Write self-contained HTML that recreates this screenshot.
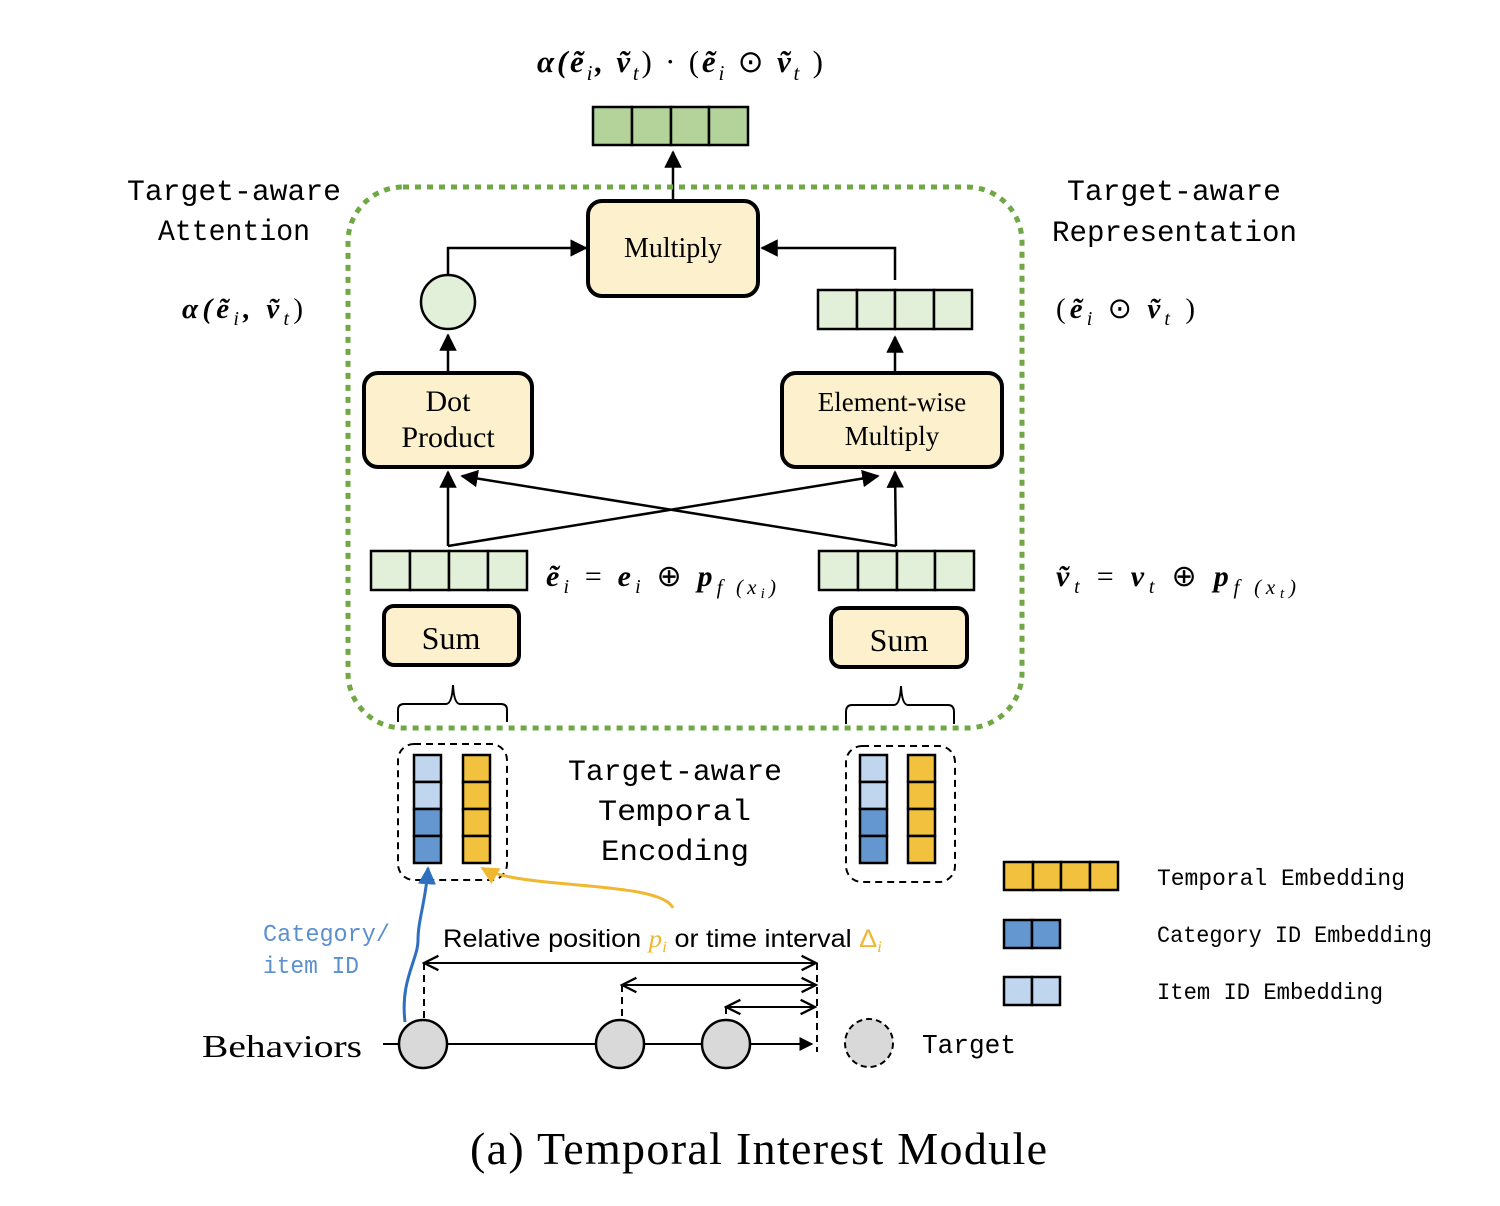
<!DOCTYPE html>
<html><head><meta charset="utf-8"><style>
body{margin:0;background:#fff}
svg{display:block}
.t{font-family:"Liberation Serif",serif;}
.w{font-family:"Liberation Mono",monospace;}
.m{font-family:"Liberation Serif",serif;font-style:italic;}
.s{font-family:"Liberation Sans",sans-serif;}
</style></head><body>
<svg width="1500" height="1206" viewBox="0 0 1500 1206" xmlns="http://www.w3.org/2000/svg">
<defs>
<marker id="a" viewBox="0 0 10 10" refX="9" refY="5" markerWidth="7" markerHeight="7" orient="auto-start-reverse"><path d="M0,0 L10,5 L0,10 z" fill="#000"/></marker>
<marker id="o" viewBox="0 0 10 10" refX="9" refY="5" markerWidth="9" markerHeight="9" orient="auto-start-reverse"><path d="M1,1 L9,5 L1,9" fill="none" stroke="#000" stroke-width="1.3"/></marker>
<marker id="ab" viewBox="0 0 10 10" refX="9" refY="5" markerWidth="6" markerHeight="6" orient="auto"><path d="M0,0 L10,5 L0,10 z" fill="#2f6fbf"/></marker>
<marker id="ay" viewBox="0 0 10 10" refX="9" refY="5" markerWidth="6" markerHeight="6" orient="auto"><path d="M0,0 L10,5 L0,10 z" fill="#f0b830"/></marker>
</defs>
<!-- top formula -->
<text x="537" y="72" class="m" font-size="31" font-weight="bold" textLength="286" lengthAdjust="spacing">α(ẽ<tspan font-size="21" dy="8" font-weight="normal">i</tspan><tspan dy="-8">, ṽ</tspan><tspan font-size="21" dy="8" font-weight="normal">t</tspan><tspan dy="-8" font-style="normal" font-weight="normal">) · (</tspan>ẽ<tspan font-size="21" dy="8" font-weight="normal">i</tspan><tspan dy="-8" font-style="normal" font-weight="normal"> ⊙ </tspan>ṽ<tspan font-size="21" dy="8" font-weight="normal">t</tspan><tspan dy="-8" font-style="normal" font-weight="normal"> )</tspan></text>
<!-- top vector -->
<g fill="#b3d39a" stroke="#000" stroke-width="2.5">
<rect x="593" y="107" width="39" height="38"/><rect x="632" y="107" width="39" height="38"/><rect x="671" y="107" width="38" height="38"/><rect x="709" y="107" width="39" height="38"/></g>
<line x1="673" y1="200" x2="673" y2="152" stroke="#000" stroke-width="2.5" marker-end="url(#a)"/>
<!-- green dotted -->
<rect x="348" y="187" width="674" height="541" rx="55" fill="none" stroke="#70a845" stroke-width="5" stroke-dasharray="6 6"/>
<!-- labels -->
<g class="w" font-size="30">
<text x="127" y="200" textLength="214" lengthAdjust="spacingAndGlyphs">Target-aware</text><text x="158" y="240" textLength="152" lengthAdjust="spacingAndGlyphs">Attention</text>
<text x="1067" y="200" textLength="214" lengthAdjust="spacingAndGlyphs">Target-aware</text><text x="1052" y="241" textLength="245" lengthAdjust="spacingAndGlyphs">Representation</text>
<text x="568" y="780" textLength="214" lengthAdjust="spacingAndGlyphs">Target-aware</text><text x="598" y="820" textLength="153" lengthAdjust="spacingAndGlyphs">Temporal</text><text x="601" y="860" textLength="148" lengthAdjust="spacingAndGlyphs">Encoding</text>
</g>
<text x="182" y="318" class="m" font-size="29" font-weight="bold" textLength="121" lengthAdjust="spacing">α(ẽ<tspan font-size="20" dy="7" font-weight="normal">i</tspan><tspan dy="-7">, ṽ</tspan><tspan font-size="20" dy="7" font-weight="normal">t</tspan><tspan dy="-7" font-style="normal" font-weight="normal">)</tspan></text>
<text x="1056" y="318" class="m" font-size="29" font-weight="bold" textLength="139" lengthAdjust="spacing"><tspan font-style="normal" font-weight="normal">(</tspan>ẽ<tspan font-size="20" dy="7" font-weight="normal">i</tspan><tspan dy="-7" font-style="normal" font-weight="normal"> ⊙ </tspan>ṽ<tspan font-size="20" dy="7" font-weight="normal">t</tspan><tspan dy="-7" font-style="normal" font-weight="normal"> )</tspan></text>
<!-- Multiply box -->
<rect x="588" y="201" width="170" height="95" rx="14" fill="#fdf1cd" stroke="#000" stroke-width="4"/>
<text x="673" y="257" class="t" font-size="28" text-anchor="middle">Multiply</text>
<!-- circle -->
<circle cx="448" cy="302" r="27" fill="#e2efd9" stroke="#000" stroke-width="2.5"/>
<polyline points="448,275 448,248 586,248" fill="none" stroke="#000" stroke-width="2.5" marker-end="url(#a)"/>
<polyline points="895,280 895,248 762,248" fill="none" stroke="#000" stroke-width="2.5" marker-end="url(#a)"/>
<g fill="#e2efd9" stroke="#000" stroke-width="2.5">
<rect x="818" y="290" width="39" height="39"/><rect x="857" y="290" width="38" height="39"/><rect x="895" y="290" width="39" height="39"/><rect x="934" y="290" width="38" height="39"/>
<rect x="371" y="551" width="39" height="39"/><rect x="410" y="551" width="39" height="39"/><rect x="449" y="551" width="39" height="39"/><rect x="488" y="551" width="39" height="39"/>
<rect x="819" y="551" width="39" height="39"/><rect x="858" y="551" width="39" height="39"/><rect x="897" y="551" width="38" height="39"/><rect x="935" y="551" width="39" height="39"/>
</g>
<!-- boxes -->
<rect x="364" y="373" width="168" height="94" rx="14" fill="#fdf1cd" stroke="#000" stroke-width="4"/>
<text x="448" y="411" class="t" font-size="30" text-anchor="middle">Dot</text>
<text x="448" y="447" class="t" font-size="30" text-anchor="middle">Product</text>
<rect x="782" y="373" width="220" height="94" rx="14" fill="#fdf1cd" stroke="#000" stroke-width="4"/>
<text x="892" y="411" class="t" font-size="27" text-anchor="middle">Element-wise</text>
<text x="892" y="445" class="t" font-size="27" text-anchor="middle">Multiply</text>
<g stroke="#000" stroke-width="2.5" fill="none">
<line x1="448" y1="371" x2="448" y2="335" marker-end="url(#a)"/>
<line x1="895" y1="371" x2="895" y2="337" marker-end="url(#a)"/>
<line x1="448" y1="546" x2="448" y2="472" marker-end="url(#a)"/>
<line x1="448" y1="546" x2="878" y2="476" marker-end="url(#a)"/>
<line x1="896" y1="546" x2="895" y2="472" marker-end="url(#a)"/>
<line x1="896" y1="546" x2="462" y2="476" marker-end="url(#a)"/>
</g>
<text x="546" y="586" class="m" font-size="30" font-weight="bold" textLength="230" lengthAdjust="spacing">ẽ<tspan font-size="20" dy="7" font-weight="normal">i</tspan><tspan dy="-7" font-style="normal" font-weight="normal"> = </tspan>e<tspan font-size="20" dy="7" font-weight="normal">i</tspan><tspan dy="-7" font-style="normal" font-weight="normal"> ⊕ </tspan>p<tspan font-size="21" dy="8" font-weight="normal">f (x<tspan font-size="15" dy="4">i</tspan><tspan dy="-4">)</tspan></tspan></text>
<text x="1056" y="586" class="m" font-size="30" font-weight="bold" textLength="240" lengthAdjust="spacing">ṽ<tspan font-size="20" dy="7" font-weight="normal">t</tspan><tspan dy="-7" font-style="normal" font-weight="normal"> = </tspan>v<tspan font-size="20" dy="7" font-weight="normal">t</tspan><tspan dy="-7" font-style="normal" font-weight="normal"> ⊕ </tspan>p<tspan font-size="21" dy="8" font-weight="normal">f (x<tspan font-size="15" dy="4">t</tspan><tspan dy="-4">)</tspan></tspan></text>
<!-- sums -->
<rect x="384" y="606" width="135" height="59" rx="10" fill="#fdf1cd" stroke="#000" stroke-width="4"/>
<text x="451" y="649" class="t" font-size="32" text-anchor="middle">Sum</text>
<rect x="831" y="608" width="136" height="59" rx="10" fill="#fdf1cd" stroke="#000" stroke-width="4"/>
<text x="899" y="651" class="t" font-size="32" text-anchor="middle">Sum</text>
<!-- braces -->
<g stroke="#000" stroke-width="2" fill="none">
<path d="M398,722 L398,710 Q398,704 404,704 L446,704 Q452,704 453,685 Q454,704 460,704 L501,704 Q507,704 507,710 L507,722"/>
<path d="M846,724 L846,712 Q846,705 852,705 L894,705 Q900,705 901,686 Q902,705 908,705 L948,705 Q954,705 954,712 L954,724"/>
<rect x="398" y="744" width="109" height="136" rx="16" stroke-dasharray="7 5"/>
<rect x="846" y="746" width="109" height="136" rx="16" stroke-dasharray="7 5"/>
</g>
<g stroke="#000" stroke-width="2.5">
<rect x="414" y="755" width="27" height="27" fill="#c0d6ee"/><rect x="414" y="782" width="27" height="27" fill="#c0d6ee"/><rect x="414" y="809" width="27" height="27" fill="#6497cf"/><rect x="414" y="836" width="27" height="27" fill="#6497cf"/>
<rect x="463" y="755" width="27" height="27" fill="#f2c23e"/><rect x="463" y="782" width="27" height="27" fill="#f2c23e"/><rect x="463" y="809" width="27" height="27" fill="#f2c23e"/><rect x="463" y="836" width="27" height="27" fill="#f2c23e"/>
<rect x="860" y="755" width="27" height="27" fill="#c0d6ee"/><rect x="860" y="782" width="27" height="27" fill="#c0d6ee"/><rect x="860" y="809" width="27" height="27" fill="#6497cf"/><rect x="860" y="836" width="27" height="27" fill="#6497cf"/>
<rect x="908" y="755" width="27" height="27" fill="#f2c23e"/><rect x="908" y="782" width="27" height="27" fill="#f2c23e"/><rect x="908" y="809" width="27" height="27" fill="#f2c23e"/><rect x="908" y="836" width="27" height="27" fill="#f2c23e"/>
<!-- legend -->
<rect x="1004" y="862" width="29" height="28" fill="#f2c23e"/><rect x="1033" y="862" width="28" height="28" fill="#f2c23e"/><rect x="1061" y="862" width="29" height="28" fill="#f2c23e"/><rect x="1090" y="862" width="28" height="28" fill="#f2c23e"/>
<rect x="1004" y="920" width="28" height="28" fill="#6497cf"/><rect x="1032" y="920" width="28" height="28" fill="#6497cf"/>
<rect x="1004" y="977" width="28" height="28" fill="#c0d6ee"/><rect x="1032" y="977" width="28" height="28" fill="#c0d6ee"/>
</g>
<g class="w" font-size="23">
<text x="1157" y="885" textLength="248" lengthAdjust="spacingAndGlyphs">Temporal Embedding</text>
<text x="1157" y="942" textLength="275" lengthAdjust="spacingAndGlyphs">Category ID Embedding</text>
<text x="1157" y="999" textLength="226" lengthAdjust="spacingAndGlyphs">Item ID Embedding</text>
</g>
<!-- curves -->
<path d="M405,1022 C400,980 418,960 418,940 C418,920 426,900 428,868" fill="none" stroke="#2f6fbf" stroke-width="3" marker-end="url(#ab)"/>
<path d="M673,908 C660,880 520,890 482,868" fill="none" stroke="#f0b830" stroke-width="3" marker-end="url(#ay)"/>
<text x="263" y="941" class="w" font-size="24" fill="#5b8fd0" textLength="127" lengthAdjust="spacingAndGlyphs">Category/</text>
<text x="263" y="973" class="w" font-size="24" fill="#5b8fd0" textLength="96" lengthAdjust="spacingAndGlyphs">item ID</text>
<text x="443" y="947" class="s" font-size="25" textLength="439" lengthAdjust="spacingAndGlyphs">Relative position <tspan class="m" fill="#f0b830">p<tspan font-size="16" dy="5">i</tspan></tspan><tspan dy="-5"> or time interval </tspan><tspan fill="#f0b830">Δ<tspan font-size="16" dy="5" class="m">i</tspan></tspan></text>
<!-- timeline -->
<g stroke="#000" stroke-width="2" fill="none">
<line x1="424" y1="963" x2="816" y2="963" marker-start="url(#o)" marker-end="url(#o)"/>
<line x1="622" y1="985" x2="816" y2="985" marker-start="url(#o)" marker-end="url(#o)"/>
<line x1="726" y1="1007" x2="815" y2="1007" marker-start="url(#o)" marker-end="url(#o)"/>
<g stroke-dasharray="7 5"><line x1="424" y1="963" x2="424" y2="1020"/><line x1="622" y1="985" x2="622" y2="1020"/><line x1="726" y1="1007" x2="726" y2="1020"/><line x1="817" y1="963" x2="817" y2="1052"/></g>
<line x1="383" y1="1044" x2="812" y2="1044" marker-end="url(#a)"/>
</g>
<g stroke="#000" stroke-width="2.5" fill="#d9d9d9">
<circle cx="423" cy="1044" r="24"/><circle cx="620" cy="1044" r="24"/><circle cx="726" cy="1044" r="24"/>
<circle cx="869" cy="1043" r="24" stroke-dasharray="6 4" stroke-width="2"/>
</g>
<text x="202" y="1057" class="t" font-size="32" textLength="160" lengthAdjust="spacingAndGlyphs">Behaviors</text>
<text x="922" y="1053" class="w" font-size="27" textLength="94" lengthAdjust="spacingAndGlyphs">Target</text>
<text x="470" y="1164" class="t" font-size="46" textLength="577" lengthAdjust="spacing">(a)  Temporal Interest Module</text>
</svg>
</body></html>
